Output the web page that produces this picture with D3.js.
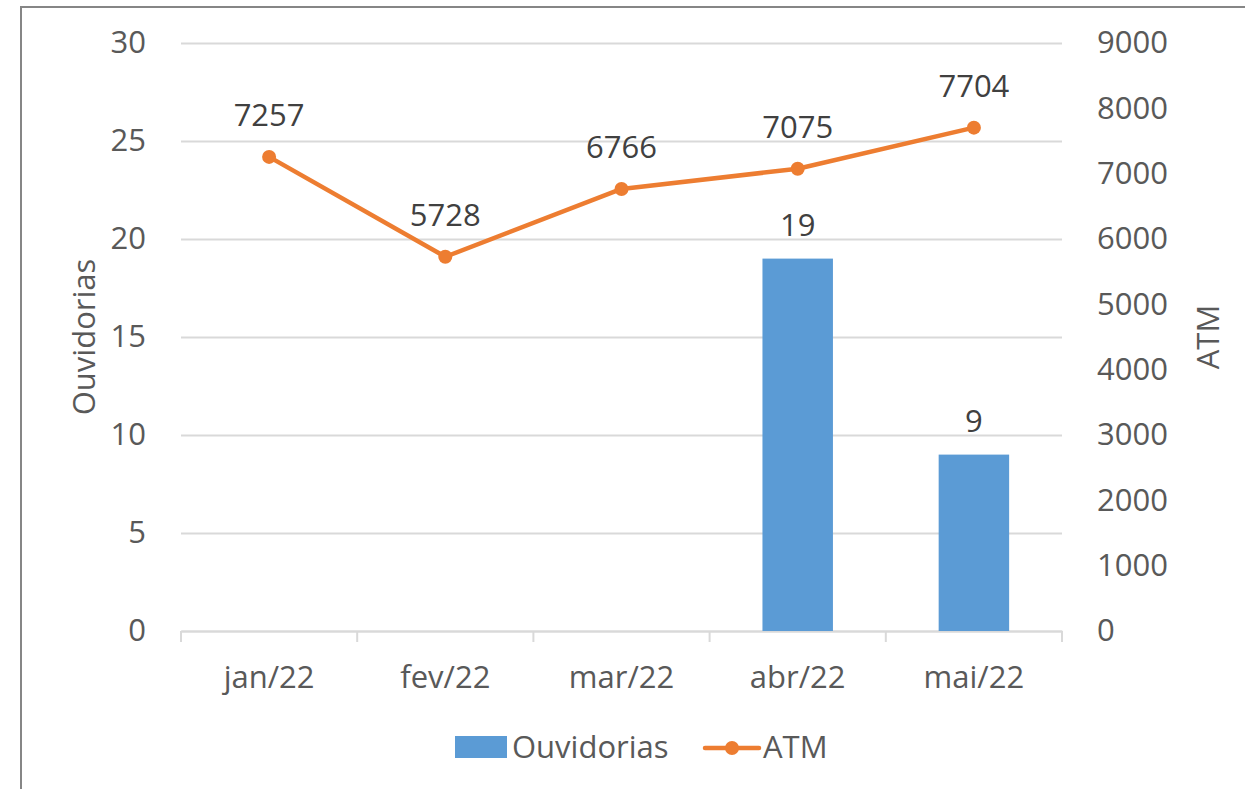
<!DOCTYPE html>
<html>
<head>
<meta charset="utf-8">
<script src="https://cdn.jsdelivr.net/npm/d3@7"></script>
<style>
  body { margin: 0; background: #fff; }
  svg text { font-family: "Open Sans", sans-serif; }
</style>
</head>
<body>
<svg id="chart" width="1245" height="789"></svg>
<script>
let months = ["jan/22", "fev/22", "mar/22", "abr/22", "mai/22"];
let ouvidorias = [null, null, null, 19, 9];
let atm = [7257, 5728, 6766, 7075, 7704];
let leftTicks = [0, 5, 10, 15, 20, 25, 30];
let rightTicks = [0, 1000, 2000, 3000, 4000, 5000, 6000, 7000, 8000, 9000];

let margin = {top: 43, right: 183, bottom: 158, left: 181};
let width = 1245 - margin.left - margin.right;
let height = 789 - margin.top - margin.bottom;
let fs = "31px";

let svg = d3.select("#chart");

// outer frame
svg.append("rect")
  .attr("x", 21).attr("y", 7)
  .attr("width", 1260).attr("height", 800)
  .attr("fill", "none").attr("stroke", "#868686").attr("stroke-width", 2);

let g = svg.append("g")
  .attr("transform", "translate(" + margin.left + "," + margin.top + ")");

let x = d3.scaleBand().domain(months).range([0, width]);
let yL = d3.scaleLinear().domain([0, 30]).range([height, 0]);
let yR = d3.scaleLinear().domain([0, 9000]).range([height, 0]);

// gridlines
g.append("g")
  .call(d3.axisLeft(yL).tickValues(leftTicks).tickSize(-width).tickFormat(""))
  .call(s => s.select(".domain").remove())
  .call(s => s.selectAll("line").attr("stroke", "#d9d9d9").attr("stroke-width", 2));

// left axis labels
g.append("g")
  .call(d3.axisLeft(yL).tickValues(leftTicks).tickSize(0).tickPadding(35))
  .call(s => s.select(".domain").remove())
  .call(s => s.selectAll("text").attr("fill", "#595959").style("font-size", fs));

// right axis labels
g.append("g")
  .attr("transform", "translate(" + width + ",0)")
  .call(d3.axisRight(yR).tickValues(rightTicks).tickSize(0).tickPadding(35).tickFormat(d3.format("d")))
  .call(s => s.select(".domain").remove())
  .call(s => s.selectAll("text").attr("fill", "#595959").style("font-size", fs));

// x axis
let xAxis = g.append("g")
  .attr("transform", "translate(0," + height + ")")
  .call(d3.axisBottom(x).tickSize(0).tickPadding(35));
xAxis.select(".domain").attr("stroke", "#d9d9d9").attr("stroke-width", 2);
xAxis.selectAll("text").attr("fill", "#595959").style("font-size", fs);
let bounds = months.map(m => x(m)).concat([width]);
xAxis.selectAll(".sep").data(bounds).enter().append("line")
  .attr("x1", d => d).attr("x2", d => d)
  .attr("y1", 0).attr("y2", 11)
  .attr("stroke", "#d9d9d9").attr("stroke-width", 2);

// bars
let barW = x.bandwidth() * 0.4;
let barData = months.map((m, i) => ({m: m, v: ouvidorias[i]})).filter(d => d.v != null);
g.selectAll(".bar").data(barData).enter().append("rect")
  .attr("x", d => x(d.m) + (x.bandwidth() - barW) / 2)
  .attr("y", d => yL(d.v))
  .attr("width", barW)
  .attr("height", d => height - yL(d.v))
  .attr("fill", "#5b9bd5");
g.selectAll(".barlabel").data(barData).enter().append("text")
  .attr("x", d => x(d.m) + x.bandwidth() / 2)
  .attr("y", d => yL(d.v) - 23)
  .attr("text-anchor", "middle")
  .attr("fill", "#404040").style("font-size", fs)
  .text(d => d.v);

// line
let lineData = months.map((m, i) => ({m: m, v: atm[i]}));
let line = d3.line()
  .x(d => x(d.m) + x.bandwidth() / 2)
  .y(d => yR(d.v));
g.append("path").attr("d", line(lineData))
  .attr("fill", "none").attr("stroke", "#ed7d31").attr("stroke-width", 4.5)
  .attr("stroke-linejoin", "round").attr("stroke-linecap", "round");
g.selectAll(".pt").data(lineData).enter().append("circle")
  .attr("cx", d => x(d.m) + x.bandwidth() / 2)
  .attr("cy", d => yR(d.v))
  .attr("r", 7).attr("fill", "#ed7d31");
g.selectAll(".ptlabel").data(lineData).enter().append("text")
  .attr("x", d => x(d.m) + x.bandwidth() / 2)
  .attr("y", d => yR(d.v) - 31)
  .attr("text-anchor", "middle")
  .attr("fill", "#404040").style("font-size", fs)
  .text(d => d.v);

// axis titles
svg.append("text")
  .attr("transform", "translate(95,337) rotate(-90)")
  .attr("text-anchor", "middle")
  .attr("fill", "#595959").style("font-size", fs)
  .text("Ouvidorias");
svg.append("text")
  .attr("transform", "translate(1219,337) rotate(-90)")
  .attr("text-anchor", "middle")
  .attr("fill", "#595959").style("font-size", fs)
  .text("ATM");

// legend
let legend = svg.append("g").attr("transform", "translate(455,747)");
legend.append("rect").attr("x", 0).attr("y", -11).attr("width", 52).attr("height", 22).attr("fill", "#5b9bd5");
legend.append("text").attr("x", 57).attr("y", 11).attr("fill", "#595959").style("font-size", fs).text("Ouvidorias");
legend.append("line").attr("x1", 250).attr("x2", 304).attr("y1", 1).attr("y2", 1)
  .attr("stroke", "#ed7d31").attr("stroke-width", 4.5).attr("stroke-linecap", "round");
legend.append("circle").attr("cx", 277).attr("cy", 1).attr("r", 7).attr("fill", "#ed7d31");
legend.append("text").attr("x", 308).attr("y", 11).attr("fill", "#595959").style("font-size", fs).text("ATM");
</script>
</body>
</html>
